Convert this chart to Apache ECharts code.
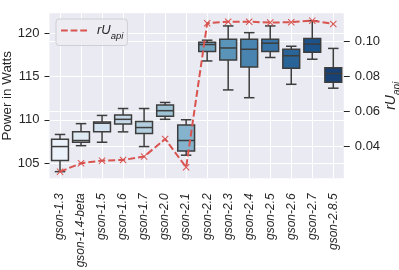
<!DOCTYPE html>
<html>
<head>
<meta charset="utf-8">
<script src="https://cdn.jsdelivr.net/npm/echarts@6/dist/echarts.min.js"></script>
<style>html,body{margin:0;padding:0;background:#fff}#c{width:399px;height:270px}</style>
</head>
<body>
<div id="c"></div>
<script>
const categories = ['gson-1.3','gson-1.4-beta','gson-1.5','gson-1.6','gson-1.7','gson-2.0','gson-2.1','gson-2.2','gson-2.3','gson-2.4','gson-2.5','gson-2.6','gson-2.7','gson-2.8.5'];
const whiskerLow  = [104.0, 107.0, 107.4, 108.6, 106.9, 110.05, 105.9, 116.8, 113.45, 112.55, 117.2, 114.1, 117.0, 113.65];
const q1          = [105.3, 107.4, 108.6, 109.5, 108.4, 110.4, 106.4, 117.9, 116.9, 116.1, 117.9, 115.95, 117.8, 114.35];
const median      = [106.9, 107.6, 109.6, 110.05, 109.1, 111.05, 107.6, 118.7, 118.3, 118.15, 118.85, 117.4, 118.75, 115.35];
const q3          = [107.75, 108.6, 109.75, 110.55, 109.8, 111.7, 109.4, 118.96, 119.3, 119.3, 119.3, 118.15, 119.4, 116.0];
const whiskerHigh = [108.3, 109.55, 110.5, 111.3, 111.3, 112.0, 110.0, 119.2, 120.85, 120.07, 120.85, 118.5, 121.45, 118.25];
const rUapi       = [0.0253, 0.0301, 0.0316, 0.0320, 0.0339, 0.0440, 0.0278, 0.1101, 0.1110, 0.1110, 0.1105, 0.1107, 0.1116, 0.1097];
const powerTicks  = [105, 110, 115, 120];
const rTicks      = [0.04, 0.06, 0.08, 0.10];

const boxColors = ['#ecf2f9','#e0eaf3','#d4e1ee','#c6d8e8','#b3cede','#9dc2d5','#85b2cd','#6ea3c0','#5a94b9','#4884af','#3773a5','#296498','#1c538b','#184175'];
const edge = '#3d3d3d';
const txt = '#262626';
const FONT = 'Liberation Sans';

const boxData = categories.map((c, i) => [i, whiskerLow[i], q1[i], median[i], q3[i], whiskerHigh[i]]);

const chart = echarts.init(document.getElementById('c'), null, {renderer: 'canvas'});
chart.setOption({
  animation: false,
  backgroundColor: '#ffffff',
  textStyle: {fontFamily: FONT, color: txt},
  grid: {left: 49.5, right: 55.2, top: 13.3, bottom: 91.7, show: true, backgroundColor: '#eaeaf2', borderWidth: 0, outerBoundsMode: 'none'},
  legend: {
    left: 56, top: 19,
    padding: [5, 4, 4, 5],
    backgroundColor: 'rgba(236,236,242,0.9)',
    borderColor: '#cfcfd6', borderWidth: 1, borderRadius: 3,
    itemWidth: 26, itemHeight: 2,
    data: [{name: 'rU_api', icon: 'path://M0,0h7v2h-7z M10,0h7v2h-7z M20,0h7v2h-7z'}],
    formatter: () => '{i|rU}{s|api}',
    textStyle: {
      color: txt,
      rich: {
        i: {fontFamily: FONT, fontStyle: 'italic', fontSize: 13, color: txt, lineHeight: 16, padding: [0, 0, 0, 5]},
        s: {fontFamily: FONT, fontStyle: 'italic', fontSize: 9.5, color: txt, lineHeight: 10, verticalAlign: 'bottom', padding: [0,0,-3,0]}
      }
    }
  },
  xAxis: {
    type: 'category',
    data: categories,
    boundaryGap: true,
    axisLine: {show: false},
    axisTick: {show: false},
    splitLine: {show: true, alignWithLabel: true, lineStyle: {color: '#ffffff', width: 1}},
    axisLabel: {rotate: 90, margin: 15, fontSize: 12, fontStyle: 'italic', color: txt, fontFamily: FONT, interval: 0}
  },
  yAxis: [{
    type: 'value',
    min: 103.23, max: 122.31,
    name: 'Power in Watts',
    nameLocation: 'middle', nameGap: 42, nameRotate: 90, nameMoveOverlap: false,
    nameTextStyle: {fontSize: 13.4, color: txt, fontFamily: FONT, verticalAlign: 'middle'},
    axisLine: {show: false},
    axisTick: {show: true, length: 5, customValues: powerTicks, lineStyle: {color: txt, width: 1}},
    axisLabel: {customValues: powerTicks, margin: 10, fontSize: 13, color: txt, fontFamily: FONT},
    splitLine: {show: true, lineStyle: {color: '#ffffff', width: 1}}
  }, {
    type: 'value',
    position: 'right',
    min: 0.0215, max: 0.1158,
    name: '{i|rU}{s|api}',
    nameLocation: 'middle', nameGap: 47, nameRotate: 90, nameMoveOverlap: false,
    nameTextStyle: {
      color: txt, verticalAlign: 'middle',
      rich: {
        i: {fontFamily: FONT, fontStyle: 'italic', fontSize: 14, color: txt, lineHeight: 17},
        s: {fontFamily: FONT, fontStyle: 'italic', fontSize: 10, color: txt, lineHeight: 10, verticalAlign: 'bottom', padding: [0,0,-3,0]}
      }
    },
    axisLine: {show: false},
    axisTick: {show: true, length: 6, customValues: rTicks, lineStyle: {color: txt, width: 1}},
    axisLabel: {customValues: rTicks, margin: 11, fontSize: 13, color: txt, fontFamily: FONT, formatter: v => v.toFixed(2)},
    splitLine: {show: true, lineStyle: {color: '#ffffff', width: 1}}
  }],
  series: [{
    type: 'custom',
    name: 'power',
    xAxisIndex: 0, yAxisIndex: 0,
    data: boxData,
    encode: {x: 0, y: [1, 2, 3, 4, 5]},
    z: 2,
    renderItem: function (params, api) {
      const i = api.value(0);
      const band = api.size([1, 0])[0];
      const bw = band * 0.8;
      const cw = band * 0.5;
      const pLo = api.coord([i, api.value(1)]);
      const pQ1 = api.coord([i, api.value(2)]);
      const pMd = api.coord([i, api.value(3)]);
      const pQ3 = api.coord([i, api.value(4)]);
      const pHi = api.coord([i, api.value(5)]);
      const x = pMd[0];
      const ls = {stroke: edge, lineWidth: 1.5};
      return {
        type: 'group',
        children: [
          {type: 'line', shape: {x1: x, y1: pQ1[1], x2: x, y2: pLo[1]}, style: ls},
          {type: 'line', shape: {x1: x, y1: pQ3[1], x2: x, y2: pHi[1]}, style: ls},
          {type: 'line', shape: {x1: x - cw / 2, y1: pLo[1], x2: x + cw / 2, y2: pLo[1]}, style: ls},
          {type: 'line', shape: {x1: x - cw / 2, y1: pHi[1], x2: x + cw / 2, y2: pHi[1]}, style: ls},
          {type: 'rect', shape: {x: x - bw / 2, y: pQ3[1], width: bw, height: pQ1[1] - pQ3[1]},
            style: {fill: boxColors[i], stroke: edge, lineWidth: 1.5}},
          {type: 'line', shape: {x1: x - bw / 2, y1: pMd[1], x2: x + bw / 2, y2: pMd[1]}, style: ls}
        ]
      };
    }
  }, {
    type: 'line',
    name: 'rU_api',
    xAxisIndex: 0, yAxisIndex: 1,
    data: rUapi,
    z: 5,
    color: '#d9534f',
    lineStyle: {color: '#d9534f', width: 2, type: [7, 3]},
    symbol: 'path://M0,1 L1,0 L5,4 L9,0 L10,1 L6,5 L10,9 L9,10 L5,6 L1,10 L0,9 L4,5 Z',
    symbolSize: 7,
    showSymbol: true,
    itemStyle: {color: '#d9534f'}
  }]
});
</script>
</body>
</html>
